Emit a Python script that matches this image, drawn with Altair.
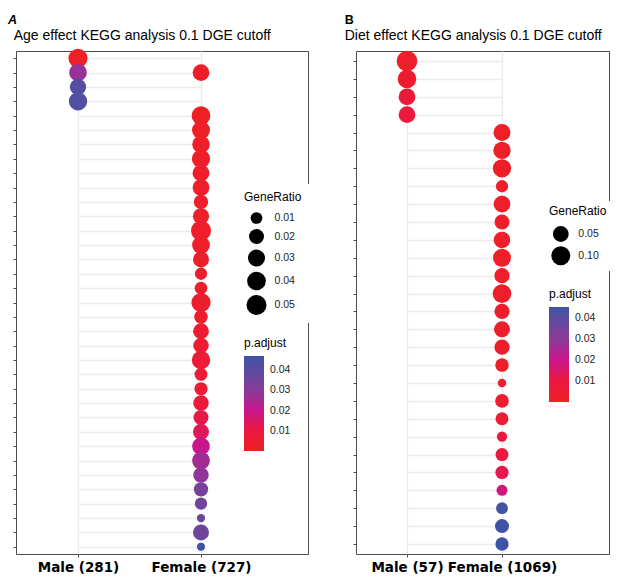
import altair as alt
import pandas as pd

# ---------------- Panel A: Age effect ----------------
A_groups = ["Male (281)", "Female (727)"]
A_male_rows = [1, 2, 3, 4]
A_male_ratio = [0.0421, 0.0334, 0.0258, 0.0372]
A_male_padj = [0.001, 0.028, 0.041, 0.042]
A_female_rows = [2, 5, 6, 7, 8, 9, 10, 11, 12, 13, 14, 15, 16, 17, 18, 19, 20,
                 21, 22, 23, 24, 25, 26, 27, 28, 29, 30, 31, 32, 33, 34, 35]
A_female_ratio = [0.0278, 0.0400, 0.0353, 0.0322, 0.0372, 0.0283, 0.0278, 0.0174,
                  0.0253, 0.0500, 0.0340, 0.0243, 0.0114, 0.0124, 0.0436, 0.0153,
                  0.0234, 0.0221, 0.0379, 0.0127, 0.0138, 0.0221, 0.0200, 0.0243,
                  0.0334, 0.0340, 0.0221, 0.0174, 0.0114, 0.0046, 0.0243, 0.0043]
A_female_padj = [0.002, 0.0005, 0.001, 0.001, 0.0015, 0.002, 0.002, 0.002, 0.002,
                 0.002, 0.0025, 0.003, 0.003, 0.003, 0.003, 0.003, 0.005, 0.005,
                 0.006, 0.006, 0.006, 0.008, 0.011, 0.013, 0.020, 0.026, 0.029,
                 0.034, 0.035, 0.036, 0.036, 0.047]
A_letter = ["A"]
A_title = ["Age effect KEGG analysis 0.1 DGE cutoff"]

# ---------------- Panel B: Diet effect ----------------
B_groups = ["Male (57)", "Female (1069)"]
B_male_rows = [1, 2, 3, 4]
B_male_ratio = [0.1387, 0.0903, 0.0627, 0.0614]
B_male_padj = [0.002, 0.004, 0.008, 0.009]
B_female_rows = [5, 6, 7, 8, 9, 10, 11, 12, 13, 14, 15, 16, 17, 18, 19, 20, 21,
                 22, 23, 24, 25, 26, 27, 28]
B_female_ratio = [0.0656, 0.0701, 0.0867, 0.0200, 0.0614, 0.0411, 0.0587, 0.0814,
                  0.0432, 0.0941, 0.0432, 0.0523, 0.0432, 0.0279, 0.0057, 0.0287,
                  0.0243, 0.0107, 0.0243, 0.0264, 0.0135, 0.0172, 0.0319, 0.0264]
B_female_padj = [0.001, 0.001, 0.001, 0.002, 0.002, 0.002, 0.002, 0.002, 0.002,
                 0.002, 0.003, 0.003, 0.003, 0.003, 0.004, 0.004, 0.005, 0.010,
                 0.010, 0.012, 0.018, 0.044, 0.045, 0.045]
B_letter = ["B"]
B_title = ["Diet effect KEGG analysis 0.1 DGE cutoff"]

PADJ_COLORS = ["#EE2024", "#EC1840", "#C8168C", "#8B3A99", "#5A4CA0", "#3F53A4"]

GRID = "#EBEBEB"
TICK = "#4D4D4D"
FONT = "Liberation Sans"


def frame(groups, male_rows, male_ratio, male_padj, female_rows, female_ratio, female_padj):
    rows = []
    for r, g, p in zip(male_rows, male_ratio, male_padj):
        rows.append({"group": groups[0], "row": r, "GeneRatio": g, "padj": p})
    for r, g, p in zip(female_rows, female_ratio, female_padj):
        rows.append({"group": groups[1], "row": r, "GeneRatio": g, "padj": p})
    return pd.DataFrame(rows)


def panel(df, groups, letter, letter_style, letter_dx, title, title_dx, width, x_range,
          y_pad, size_domain, size_range, size_values, color_domain,
          size_lx, size_ly, col_lx, col_ly, grad_len, sym_offset, sym_lab_off,
          row_pad, leg_pad):
    points = alt.Chart(df).mark_circle(opacity=1).encode(
        x=alt.X("group:N", sort=groups,
                scale=alt.Scale(range=x_range, padding=0),
                axis=alt.Axis(title=None, labelAngle=0, labelFont="DejaVu Sans",
                              labelFontWeight="bold", labelFontSize=13.5,
                              labelColor="black", labelPadding=3, tickSize=3,
                              tickColor=TICK, domain=False, grid=True,
                              gridColor=GRID, gridWidth=1.3)),
        y=alt.Y("row:O", scale=alt.Scale(padding=y_pad),
                axis=alt.Axis(title=None, labels=False, ticks=True, tickSize=3,
                              tickColor=TICK, domain=False, grid=True,
                              gridColor=GRID, gridWidth=1.3)),
        size=alt.Size("GeneRatio:Q",
                      scale=alt.Scale(type="sqrt", domain=size_domain,
                                      range=size_range, zero=False),
                      legend=alt.Legend(title="GeneRatio", orient="none",
                                        legendX=size_lx, legendY=size_ly,
                                        values=size_values, format=".2f",
                                        symbolType="circle", symbolFillColor="black",
                                        symbolStrokeWidth=0, symbolOpacity=1,
                                        symbolOffset=sym_offset, labelOffset=sym_lab_off,
                                        rowPadding=row_pad, fillColor="white",
                                        padding=leg_pad, titleFont=FONT, titleFontSize=12,
                                        titleFontWeight="normal", titleColor="black",
                                        titlePadding=8, labelFont=FONT,
                                        labelFontSize=10.5, labelColor="#222222")),
        color=alt.Color("padj:Q",
                        scale=alt.Scale(domain=color_domain, range=PADJ_COLORS,
                                        interpolate="rgb"),
                        legend=alt.Legend(title="p.adjust", orient="none",
                                          legendX=col_lx, legendY=col_ly,
                                          direction="vertical",
                                          gradientLength=grad_len,
                                          gradientThickness=20,
                                          gradientStrokeWidth=0,
                                          values=[0.01, 0.02, 0.03, 0.04],
                                          format=".2f", fillColor="white",
                                          padding=leg_pad, titleFont=FONT,
                                          titleFontSize=12, titleFontWeight="normal",
                                          titleColor="black", titlePadding=6,
                                          labelFont=FONT, labelFontSize=10.5,
                                          labelColor="#222222", labelOffset=6)),
    )
    tag = alt.Chart(pd.DataFrame({"letter": letter})).mark_text(
        align="left", baseline="alphabetic", font=FONT, fontSize=12.5,
        fontWeight="bold", fontStyle=letter_style, color="black",
    ).encode(text="letter:N", x=alt.value(letter_dx), y=alt.value(-26.7))
    head = alt.Chart(pd.DataFrame({"title": title})).mark_text(
        align="left", baseline="alphabetic", font=FONT, fontSize=14,
        color="black",
    ).encode(text="title:N", x=alt.value(title_dx), y=alt.value(-10.7))
    return alt.layer(points, tag, head).properties(width=width, height=503)


dfA = frame(A_groups, A_male_rows, A_male_ratio, A_male_padj,
            A_female_rows, A_female_ratio, A_female_padj)
dfB = frame(B_groups, B_male_rows, B_male_ratio, B_male_padj,
            B_female_rows, B_female_ratio, B_female_padj)

chartA = panel(dfA, A_groups, A_letter, "italic", -8, A_title, -2.3, 292, [62, 185],
               0.5, [0.004, 0.05], [58.8, 400], [0.01, 0.02, 0.03, 0.04, 0.05],
               [0, 0.01, 0.02, 0.03, 0.04, 0.047],
               220, 133, 220, 279, 95, 2.5, 8, 4.5, 8)

chartB = panel(dfB, B_groups, B_letter, "normal", -11.3, B_title, -11.3, 253, [51, 146],
               0.56, [0.005, 0.14], [66.7, 430.6], [0.05, 0.10],
               [0, 0.01, 0.02, 0.03, 0.04, 0.045],
               188, 150, 188, 233, 95, 1.8, 7.5, 3.8, 5)

chart = alt.hconcat(chartA, chartB, spacing=33).resolve_scale(
    x="independent", y="independent", size="independent", color="independent"
).resolve_legend(size="independent", color="independent").configure_view(
    stroke="#4D4D4D", strokeWidth=1
).properties(
    padding={"left": 7, "top": 13, "right": 6, "bottom": 2},
    background="white",
)

chart.save("out.html", embed_options={"renderer": "svg", "actions": False})
